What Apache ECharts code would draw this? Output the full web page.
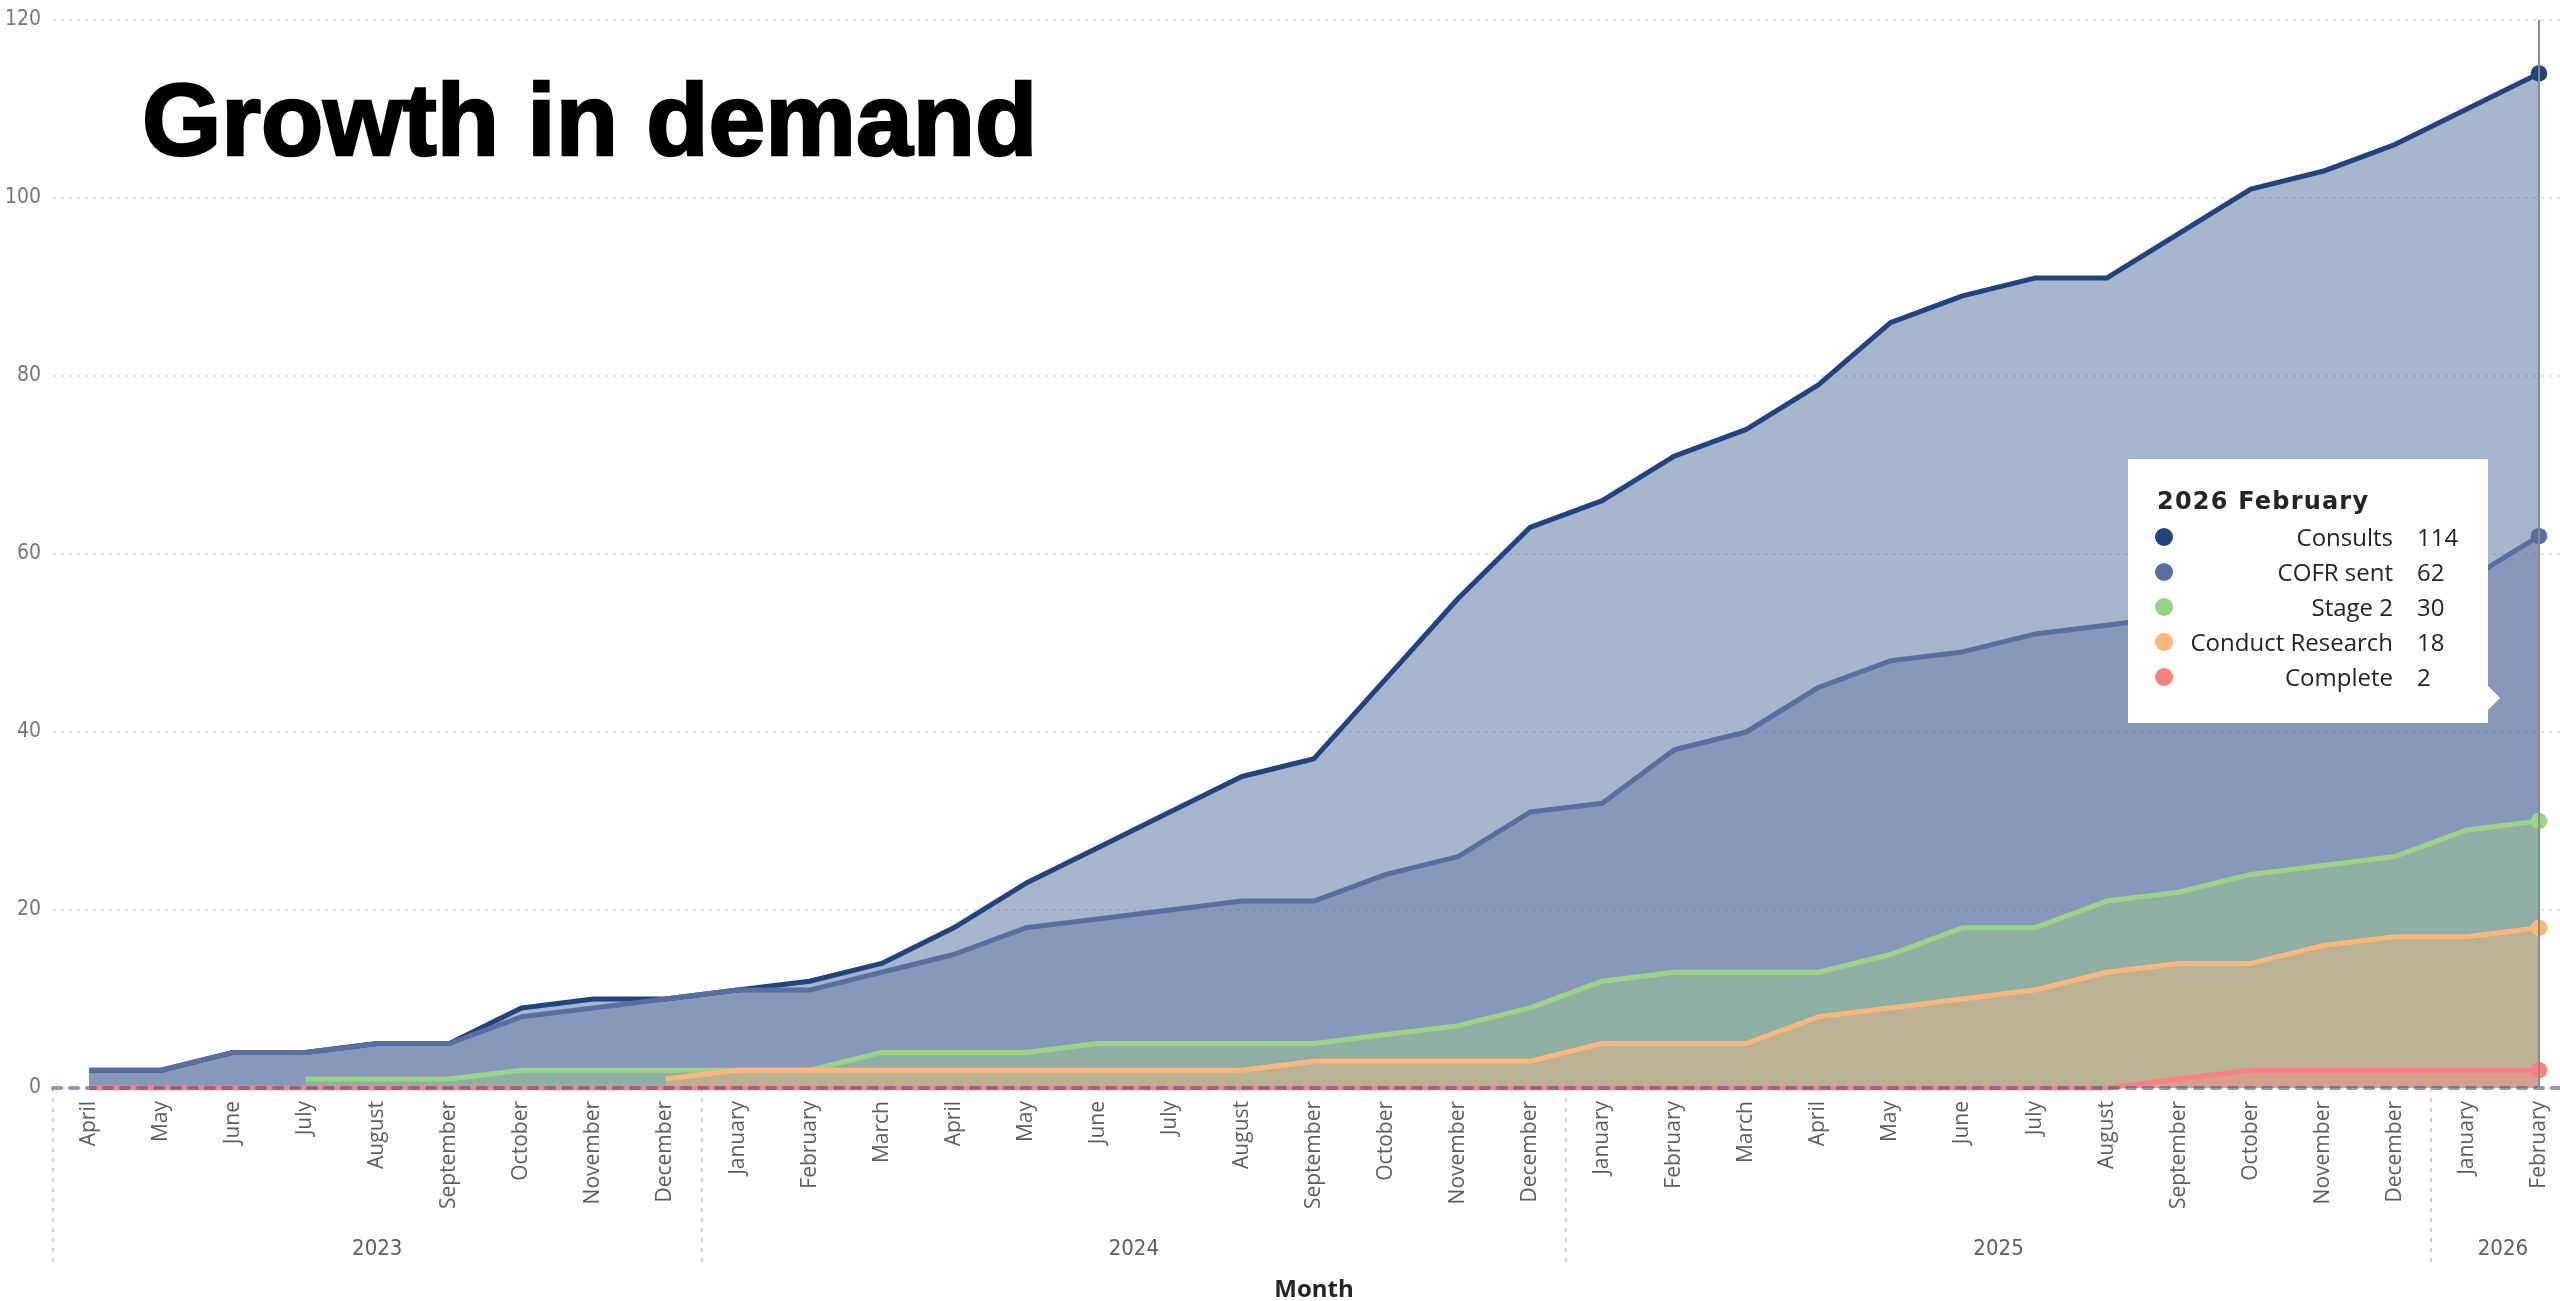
<!DOCTYPE html>
<html>
<head>
<meta charset="utf-8">
<script src="https://cdn.jsdelivr.net/npm/echarts@6/dist/echarts.min.js"></script>
<style>
html,body{margin:0;padding:0;background:#fff;}
#chart{width:2560px;height:1301px;}
</style>
</head>
<body>
<div id="chart"></div>
<script>
// ---- data ----
const years = ['2023', '2024', '2025', '2026'];
const monthsPerYear = [9, 12, 12, 2];
const months = [
  'April','May','June','July','August','September','October','November','December',
  'January','February','March','April','May','June','July','August','September','October','November','December',
  'January','February','March','April','May','June','July','August','September','October','November','December',
  'January','February'
];
const consults = [2,2,4,4,5,5,9,10,10, 11,12,14,18,23,27,31,35,37,46,55,63, 66,71,74,79,86,89,91,91,96,101,103,106, 110,114];
const cofrSent = [2,2,4,4,5,5,8,9,10, 11,11,13,15,18,19,20,21,21,24,26,31, 32,38,40,45,48,49,51,52,53,54,55,56, 57,62];
const stage2 = [null,null,null,1,1,1,2,2,2, 2,2,4,4,4,5,5,5,5,6,7,9, 12,13,13,13,15,18,18,21,22,24,25,26, 29,30];
const conductResearch = [null,null,null,null,null,null,null,null,1, 2,2,2,2,2,2,2,2,3,3,3,3, 5,5,5,8,9,10,11,13,14,14,16,17, 17,18];
const complete = [0,0,0,0,0,0,0,0,0, 0,0,0,0,0,0,0,0,0,0,0,0, 0,0,0,0,0,0,0,0,1,2,2,2, 2,2];
const yTicks = [0, 20, 40, 60, 80, 100, 120];

const seriesNames = ['Consults', 'COFR sent', 'Stage 2', 'Conduct Research', 'Complete'];
const seriesData = [consults, cofrSent, stage2, conductResearch, complete];
const seriesColors = ['#21437f', '#5a6fa1', '#9ad386', '#fdb67c', '#fd8081'];

// ---- derived helpers ----
const yearOf = [];
const yearCenters = [];
const yearBounds = [-0.5];
let idx = 0;
monthsPerYear.forEach((n, i) => {
  for (let k = 0; k < n; k++) yearOf.push(years[i]);
  yearCenters.push(idx + (n - 1) / 2);
  idx += n;
  if (i < monthsPerYear.length - 1) yearBounds.push(idx - 0.5);
});
const categories = months.map((m, i) => m + ' ' + yearOf[i]);
const lastIndex = categories.length - 1;

const chart = echarts.init(document.getElementById('chart'), null, {renderer: 'canvas'});

const series = seriesNames.map((name, i) => ({
  name: name,
  type: 'line',
  data: seriesData[i],
  color: seriesColors[i],
  symbol: 'circle',
  showSymbol: true,
  showAllSymbol: true,
  symbolSize: (v, p) => (p.dataIndex === lastIndex ? 15 : 0),
  lineStyle: {width: 5, color: seriesColors[i]},
  itemStyle: {color: seriesColors[i]},
  areaStyle: {color: seriesColors[i], opacity: 0.4, origin: 'start'},
  emphasis: {disabled: true},
  connectNulls: false,
  animation: false
}));

const tooltipFormatter = function (params) {
  const di = params[0].dataIndex;
  let html = '<div style="position:relative;width:360px;height:264px;font-family:\'Open Sans\',sans-serif;color:#252423;">';
  html += '<div style="position:absolute;left:29px;top:28px;font-family:\'DejaVu Sans\',sans-serif;font-weight:bold;font-size:24px;letter-spacing:1.2px;line-height:28px;">' +
    yearOf[di] + ' ' + months[di] + '</div>';
  params.forEach((p, i) => {
    const cy = 78 + i * 35;
    const val = p.value == null ? '' : p.value;
    html += '<div style="position:absolute;left:27px;top:' + (cy - 9) + 'px;width:18px;height:18px;border-radius:9px;background:' + p.color + ';"></div>';
    html += '<div style="position:absolute;right:95px;top:' + (cy - 17) + 'px;font-size:24px;line-height:34px;white-space:nowrap;">' + p.seriesName + '</div>';
    html += '<div style="position:absolute;left:289px;top:' + (cy - 17) + 'px;font-size:24px;line-height:34px;white-space:nowrap;">' + val + '</div>';
  });
  html += '<div style="position:absolute;left:360px;top:227px;width:0;height:0;border-top:12px solid transparent;border-bottom:12px solid transparent;border-left:12px solid #fff;"></div>';
  html += '</div>';
  return html;
};

const option = {
  animation: false,
  backgroundColor: '#ffffff',
  title: {
    text: 'Growth in demand',
    left: 137,
    top: 71,
    textStyle: {
      fontSize: 102, fontWeight: 'bold', fontFamily: 'Liberation Sans, Arial, sans-serif', color: '#000',
      textBorderColor: '#000', textBorderWidth: 2.5
    }
  },
  grid: {left: 53, top: 20, width: 2522, height: 1068, containLabel: false, outerBoundsMode: 'none'},
  tooltip: {
    trigger: 'axis',
    triggerOn: 'none',
    alwaysShowContent: true,
    transitionDuration: 0,
    position: [2128, 459],
    padding: 0,
    borderWidth: 0,
    backgroundColor: '#ffffff',
    extraCssText: 'box-shadow:none;border-radius:0;overflow:visible;',
    axisPointer: {type: 'line', lineStyle: {color: '#8a8a8a', width: 2, type: 'solid'}},
    formatter: tooltipFormatter
  },
  xAxis: [
    {
      type: 'category',
      data: categories,
      boundaryGap: true,
      z: 5,
      name: 'Month',
      nameLocation: 'middle',
      nameGap: 190,
      nameTextStyle: {fontSize: 24, fontWeight: 'bold', color: '#252423', fontFamily: 'Open Sans, sans-serif'},
      axisLine: {show: true, lineStyle: {color: 'rgba(70,90,150,0.6)', width: 4, type: [8, 9]}},
      axisTick: {show: false},
      splitLine: {show: false},
      axisLabel: {
        interval: 0,
        rotate: 90,
        margin: 13,
        fontSize: 21,
        color: '#605e5c',
        fontFamily: 'Open Sans, sans-serif',
        formatter: (v, i) => months[i]
      }
    },
    {
      type: 'value',
      min: -0.5,
      max: categories.length - 0.5,
      position: 'bottom',
      axisPointer: {show: false},
      axisLine: {show: false},
      splitLine: {show: false},
      axisTick: {
        show: true,
        customValues: yearBounds,
        length: 176,
        lineStyle: {color: '#c8c8c8', width: 1.5, type: [4, 6]}
      },
      axisLabel: {
        show: true,
        customValues: yearCenters,
        margin: 150,
        fontSize: 22,
        color: '#605e5c',
        fontFamily: 'Liberation Sans Narrow, DejaVu Sans Condensed, sans-serif',
        formatter: (v) => {
          const k = yearCenters.findIndex(c => Math.abs(c - v) < 1e-6);
          return k >= 0 ? years[k] : '';
        }
      }
    }
  ],
  yAxis: {
    type: 'value',
    min: yTicks[0],
    max: yTicks[yTicks.length - 1],
    interval: 20,
    axisLine: {show: false},
    axisTick: {show: false},
    axisLabel: {
      margin: 12,
      fontSize: 21,
      color: '#777777',
      fontFamily: 'Liberation Sans Narrow, DejaVu Sans Condensed, sans-serif'
    },
    splitLine: {show: true, lineStyle: {color: '#dddddd', width: 1.5, type: [3, 5]}}
  },
  series: series
};

chart.setOption(option);
chart.dispatchAction({type: 'showTip', seriesIndex: 0, dataIndex: lastIndex});
</script>
</body>
</html>
